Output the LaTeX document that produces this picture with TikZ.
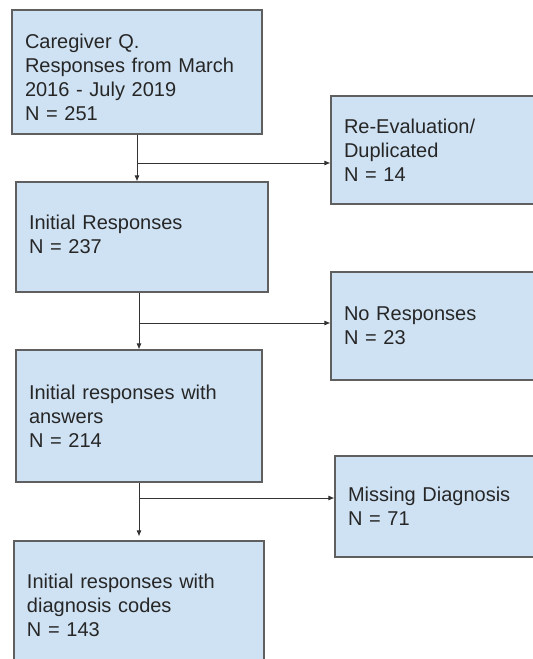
\documentclass[tikz,border=0pt]{standalone}
\usepackage{fontspec}
\setmainfont{Liberation Sans}
\usetikzlibrary{arrows.meta}
\definecolor{boxfill}{HTML}{CFE2F3}
\definecolor{boxline}{HTML}{5F5F5F}
\begin{document}
\begin{tikzpicture}[x=1pt,y=-1pt,
        flowbox/.style={rectangle, draw=boxline, fill=boxfill, line width=1.2pt,
            align=left, inner xsep=13pt, inner ysep=0pt, text=black!85,
            font=\fontsize{20}{24}\selectfont},
        arr/.style={-{Latex[length=6pt,width=5pt]}, draw=black!80, line width=0.8pt}]
    \useasboundingbox (0,0) rectangle (533,659);
    % main column
    \node[flowbox, text width=224pt, minimum height=124pt] (caregiver) at (137,72)
        {\rule{0pt}{25pt}Caregiver Q.\\Responses from March\\2016 - July 2019\\N = 251};
    \node[flowbox, text width=226pt, minimum height=110pt] (initial) at (142,237)
        {Initial Responses\\N = 237\rule[-6pt]{0pt}{6pt}};
    \node[flowbox, text width=220pt, minimum height=132pt] (answers) at (139,416)
        {Initial responses with\\answers\\N = 214};
    \node[flowbox, text width=224pt, minimum height=128pt] (codes) at (139,605)
        {Initial responses with\\diagnosis codes\\N = 143};
    % excluded
    \node[flowbox, text width=240pt, minimum height=108pt] (reeval) at (464,150)
        {Re-Evaluation/\\Duplicated\\N = 14};
    \node[flowbox, text width=240pt, minimum height=108pt] (noresp) at (464,326)
        {No Responses\\N = 23};
    \node[flowbox, text width=236pt, minimum height=101pt] (missing) at (466,506.5)
        {Missing Diagnosis\\N = 71};
    % arrows
    \coordinate (split1) at (138,163);
    \coordinate (split2) at (140,323);
    \coordinate (split3) at (139,498);
    \draw[arr] (caregiver.south) -- (caregiver.south |- initial.north);
    \draw[arr] (split1) -- (split1 -| reeval.west);
    \draw[arr] (answers.north |- initial.south) -- (answers.north);
    \draw[arr] (split2) -- (split2 -| noresp.west);
    \draw[arr] (answers.south) -- ([yshift=4pt]codes.north);
    \draw[arr] (split3) -- (split3 -| missing.west);
\end{tikzpicture}
\end{document}
